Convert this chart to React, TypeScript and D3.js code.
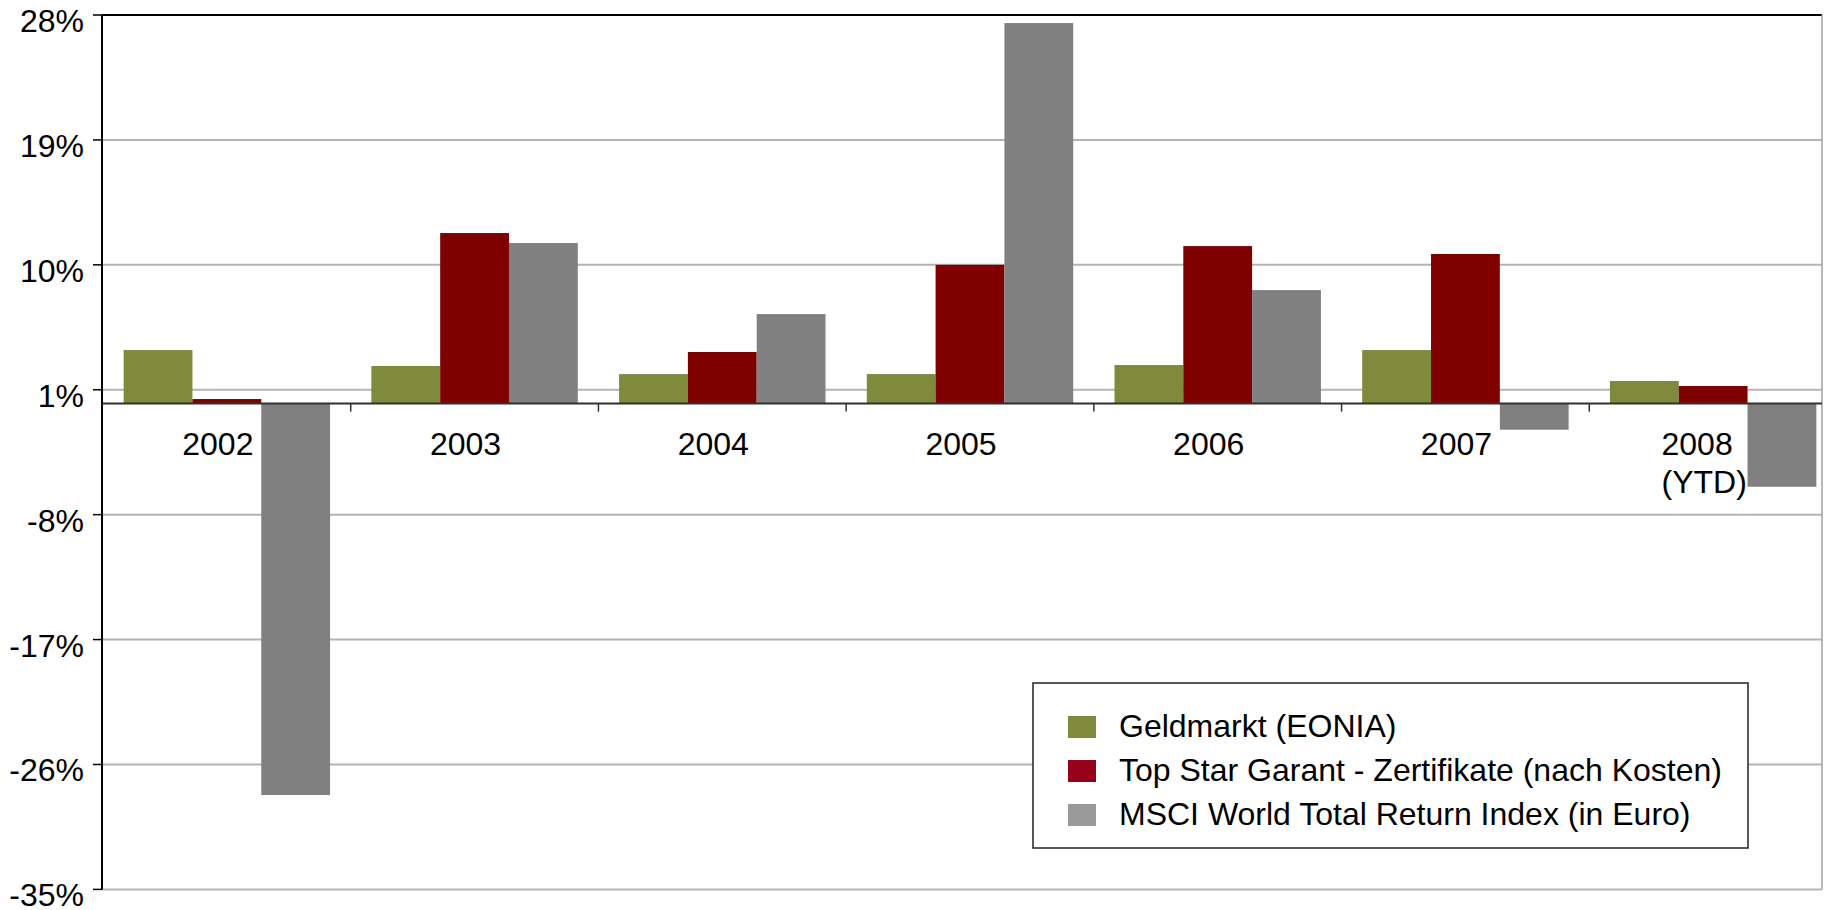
import React, { useEffect, useRef } from "react";
import * as d3 from "d3";

// years shown on the x axis (the last one is split over two lines)
const years = ["2002", "2003", "2004", "2005", "2006", "2007", "2008"];
const yearLabels = [["2002"], ["2003"], ["2004"], ["2005"], ["2006"], ["2007"], ["2008", "(YTD)"]];

const seriesNames = [
  "Geldmarkt (EONIA)",
  "Top Star Garant - Zertifikate (nach Kosten)",
  "MSCI World Total Return Index (in Euro)",
];

// yearly returns in %
const geldmarkt = [3.86, 2.71, 2.13, 2.13, 2.78, 3.86, 1.63];
const topStar = [0.33, 12.29, 3.72, 10.0, 11.35, 10.78, 1.27];
const msciWorld = [-28.2, 11.57, 6.45, 27.42, 8.18, -1.88, -5.99];

const yTicks = [28, 19, 10, 1, -8, -17, -26, -35];

const barColors = ["#808a3c", "#800000", "#808080"];
const legendColors = ["#808a3c", "#960018", "#999999"];

const W = 1836;
const H = 910;
const FONT = "'Liberation Sans', Arial, sans-serif";

const App: React.FC = () => {
  const svgRef = useRef<SVGSVGElement>(null);

  useEffect(() => {
    if (!svgRef.current) return;
    const svg = d3.select(svgRef.current);
    svg.selectAll("*").remove();

    const left = 102;
    const right = 1822;
    const top = 15;
    const bottom = 889.4;

    const y = d3.scaleLinear().domain([-35, 28]).range([bottom, top]);
    // the category axis runs past the right border of the plot (clipped there)
    const x = d3.scaleBand<string>().domain(years).range([103, 1837]);
    const x1 = d3
      .scaleBand<number>()
      .domain([0, 1, 2])
      .range([0, x.bandwidth()])
      .paddingOuter(0.3);

    const values = [geldmarkt, topStar, msciWorld];

    svg.append("rect").attr("width", W).attr("height", H).attr("fill", "#fff");

    // gridlines
    svg
      .append("g")
      .selectAll("line")
      .data(yTicks.filter((t) => t !== 28))
      .join("line")
      .attr("x1", left)
      .attr("x2", right)
      .attr("y1", (d) => y(d))
      .attr("y2", (d) => y(d))
      .attr("stroke", "#b4b4b4")
      .attr("stroke-width", 2);

    // bars
    const groups = svg
      .append("g")
      .selectAll("g")
      .data(years)
      .join("g")
      .attr("transform", (d) => `translate(${x(d)},0)`);

    groups
      .selectAll("rect")
      .data((_, i) => values.map((s, k) => ({ k, v: s[i] })))
      .join("rect")
      .attr("x", (d) => x1(d.k)!)
      .attr("width", x1.bandwidth())
      .attr("y", (d) => y(Math.max(0, d.v)))
      .attr("height", (d) => Math.abs(y(d.v) - y(0)))
      .attr("fill", (d) => barColors[d.k]);

    // plot border: top and right
    svg
      .append("line")
      .attr("x1", left)
      .attr("x2", right)
      .attr("y1", top)
      .attr("y2", top)
      .attr("stroke", "#000")
      .attr("stroke-width", 2);
    svg
      .append("line")
      .attr("x1", right)
      .attr("x2", right)
      .attr("y1", top)
      .attr("y2", bottom)
      .attr("stroke", "#a0a0a0")
      .attr("stroke-width", 1.5);

    // zero line / category axis
    const y0 = y(0);
    svg
      .append("line")
      .attr("x1", left)
      .attr("x2", right)
      .attr("y1", y0)
      .attr("y2", y0)
      .attr("stroke", "#303030")
      .attr("stroke-width", 2);
    svg
      .append("g")
      .selectAll("line")
      .data(years.slice(1))
      .join("line")
      .attr("x1", (d) => x(d)!)
      .attr("x2", (d) => x(d)!)
      .attr("y1", y0)
      .attr("y2", y0 + 8)
      .attr("stroke", "#303030")
      .attr("stroke-width", 1.5);

    // value axis
    svg
      .append("line")
      .attr("x1", left)
      .attr("x2", left)
      .attr("y1", top)
      .attr("y2", bottom)
      .attr("stroke", "#000")
      .attr("stroke-width", 2);
    const yAxis = svg.append("g");
    yAxis
      .selectAll("line")
      .data(yTicks)
      .join("line")
      .attr("x1", left - 9)
      .attr("x2", left)
      .attr("y1", (d) => y(d))
      .attr("y2", (d) => y(d))
      .attr("stroke", "#000")
      .attr("stroke-width", 1.5);
    yAxis
      .selectAll("text")
      .data(yTicks)
      .join("text")
      .attr("x", 84)
      .attr("y", (d) => y(d) + 17)
      .attr("text-anchor", "end")
      .style("font-family", FONT)
      .style("font-size", "32px")
      .attr("fill", "#000")
      .text((d) => `${d}%`);

    // category labels
    const labels = svg.append("g");
    yearLabels.forEach((lines, i) => {
      const cx = x(years[i])! + x.bandwidth() / 2 - 9;
      const t = labels
        .append("text")
        .style("font-family", FONT)
        .style("font-size", "32px")
        .attr("fill", "#000");
      lines.forEach((ln, j) => {
        t.append("tspan").attr("y", 455 + j * 38).text(ln);
      });
      if (lines.length === 1) {
        t.attr("text-anchor", "middle").selectAll("tspan").attr("x", cx);
      } else {
        const widths = (t.selectAll("tspan").nodes() as SVGTSpanElement[]).map((n) =>
          n.getComputedTextLength()
        );
        const w = Math.max(...widths);
        t.attr("text-anchor", "start").selectAll("tspan").attr("x", cx - w / 2);
      }
    });

    // legend
    const lg = svg.append("g");
    lg.append("rect")
      .attr("x", 1033)
      .attr("y", 683)
      .attr("width", 715)
      .attr("height", 165)
      .attr("fill", "#fff")
      .attr("stroke", "#222")
      .attr("stroke-width", 1.5);
    seriesNames.forEach((name, i) => {
      const ry = 716 + i * 44;
      lg.append("rect")
        .attr("x", 1068)
        .attr("y", ry)
        .attr("width", 28)
        .attr("height", 22)
        .attr("fill", legendColors[i]);
      lg.append("text")
        .attr("x", 1119)
        .attr("y", ry + 21)
        .style("font-family", FONT)
        .style("font-size", "32px")
        .attr("fill", "#000")
        .text(name);
    });
  }, []);

  return (
    <div style={{ position: "absolute", left: 0, top: 0, width: W, height: H, overflow: "hidden" }}>
      <svg ref={svgRef} width={W} height={H} style={{ display: "block" }} />
    </div>
  );
};

export default App;
